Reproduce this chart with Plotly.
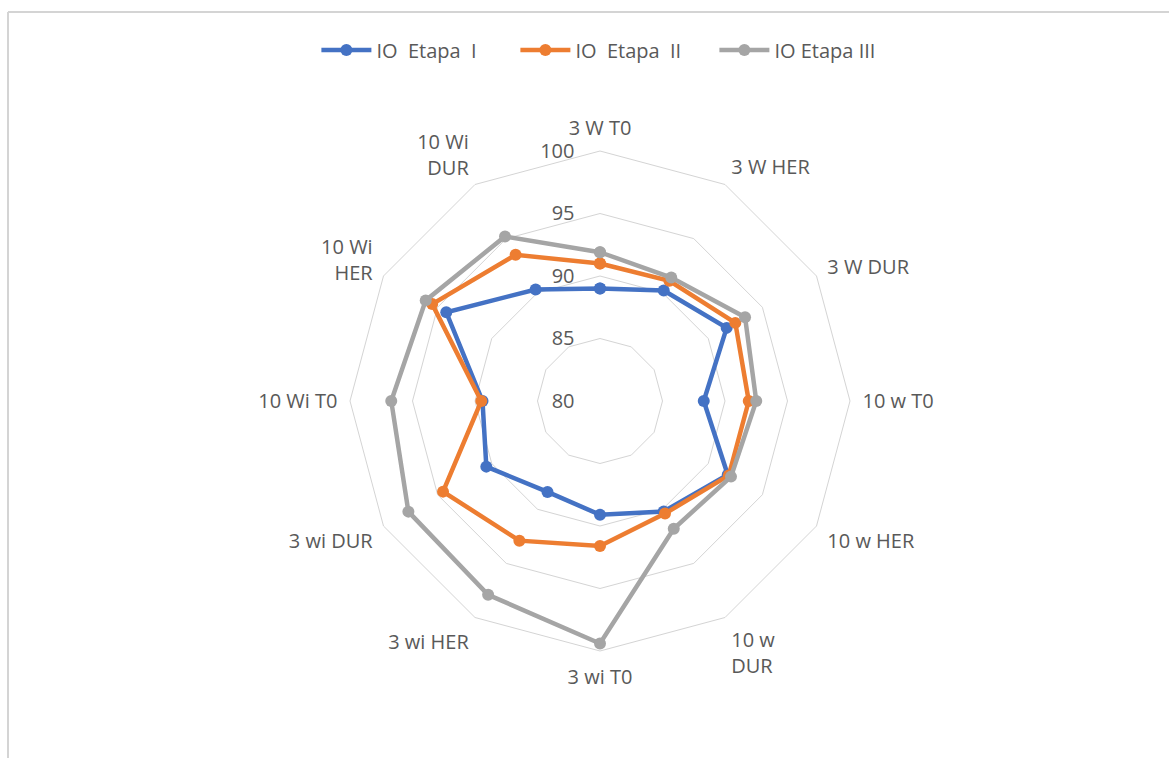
import plotly.graph_objects as go

# Categories, clockwise from the top
categories = ["3 W T0", "3 W HER", "3 W DUR", "10 w T0", "10 w HER", "10 w<br>DUR",
              "3 wi T0", "3 wi HER", "3 wi DUR", "10 Wi T0", "10 Wi<br>HER", "10 Wi<br>DUR"]

etapa_1 = [89.0, 90.2, 91.7, 88.3, 91.8, 90.2, 89.1, 88.4, 90.5, 89.4, 94.2, 90.3]
etapa_2 = [91.0, 91.1, 92.5, 91.9, 91.9, 90.4, 91.6, 92.9, 94.5, 89.5, 95.5, 93.5]
etapa_3 = [91.9, 91.4, 93.4, 92.5, 92.1, 91.8, 99.4, 97.9, 97.7, 96.7, 96.1, 95.2]

series_names = ["IO\u00a0 Etapa\u00a0 I", "IO\u00a0 Etapa\u00a0 II", "IO Etapa III"]
series_colors = ["#4472C4", "#ED7D31", "#A5A5A5"]

radial_ticks = [80, 85, 90, 95, 100]

W, H = 1169, 758
FONT = "Open Sans"
FS = 20
TXT = "#595959"
GRID = "#d4d4d4"

fig = go.Figure()
for name, vals, color in zip(series_names, [etapa_1, etapa_2, etapa_3], series_colors):
    fig.add_trace(go.Scatterpolar(
        r=vals + vals[:1],
        theta=categories + categories[:1],
        mode="lines+markers",
        name=name,
        line=dict(color=color, width=4.5),
        marker=dict(color=color, size=12),
    ))

cx, cy, rad = 600, 401, 250
fig.update_layout(
    width=W, height=H,
    margin=dict(l=0, r=0, t=0, b=0),
    paper_bgcolor="white",
    font=dict(family=FONT, size=FS, color=TXT),
    polar=dict(
        domain=dict(x=[(cx - rad) / W, (cx + rad) / W],
                    y=[1 - (cy + rad) / H, 1 - (cy - rad) / H]),
        bgcolor="white",
        gridshape="linear",
        radialaxis=dict(
            range=[80, 100], tickvals=radial_ticks,
            angle=90, tickangle=90, side="counterclockwise",
            showline=False, ticks="outside", ticklen=18, tickcolor="rgba(0,0,0,0)",
            showgrid=True, gridcolor=GRID, gridwidth=1,
            tickfont=dict(family=FONT, size=FS, color=TXT),
        ),
        angularaxis=dict(
            direction="clockwise", rotation=90,
            showgrid=False, showline=True, linecolor=GRID, linewidth=1,
            ticks="outside", ticklen=8, tickcolor="rgba(0,0,0,0)",
            tickfont=dict(family=FONT, size=FS, color=TXT),
        ),
    ),
    legend=dict(
        orientation="h", x=0.526, xanchor="center", y=1 - 50 / H, yanchor="middle",
        font=dict(family=FONT, size=FS, color=TXT),
        itemwidth=50, entrywidth=134, entrywidthmode="pixels",
    ),
    shapes=[
        dict(type="line", xref="paper", yref="paper",
             x0=8 / W, x1=1.02, y0=1 - 12 / H, y1=1 - 12 / H,
             line=dict(color=GRID, width=2)),
        dict(type="line", xref="paper", yref="paper",
             x0=8 / W, x1=8 / W, y0=-0.02, y1=1 - 12 / H,
             line=dict(color=GRID, width=2)),
    ],
)

fig.write_html("out.html")
